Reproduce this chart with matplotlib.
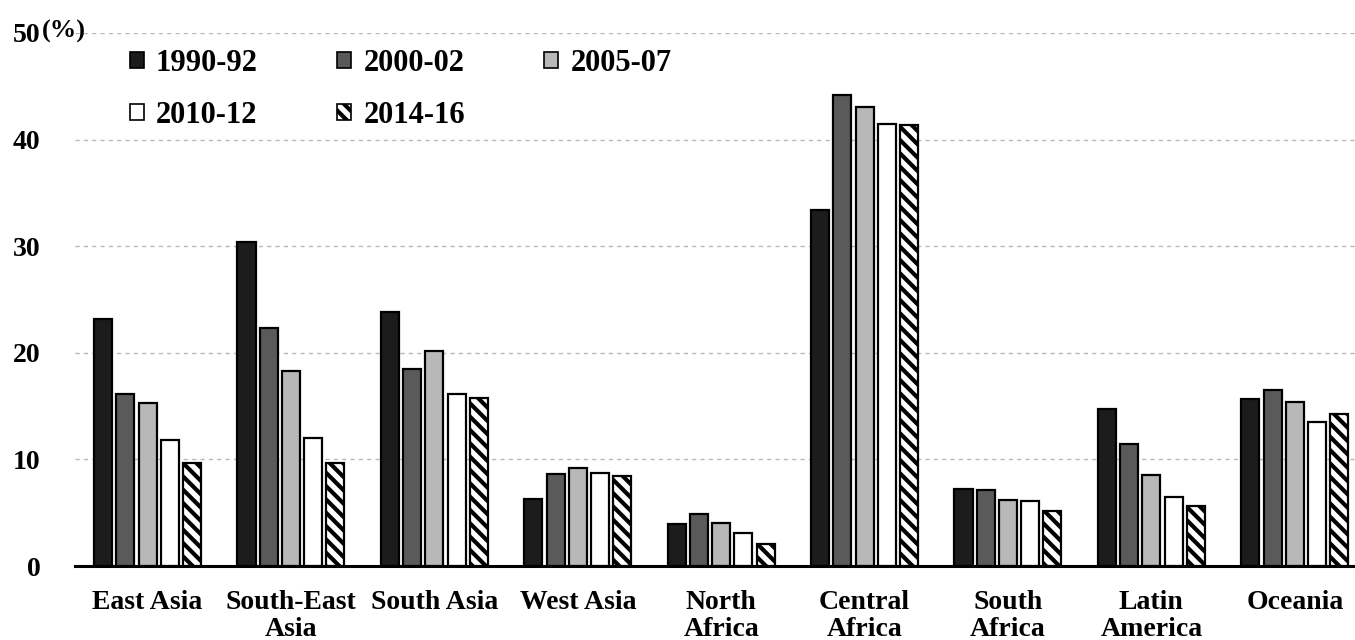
import numpy as np
import matplotlib
matplotlib.use('Agg')
import matplotlib.pyplot as plt
from matplotlib.patches import Patch

regions = ['East Asia', 'South-East\nAsia', 'South Asia', 'West Asia', 'North\nAfrica',
           'Central\nAfrica', 'South\nAfrica', 'Latin\nAmerica', 'Oceania']
periods = ['1990-92', '2000-02', '2005-07', '2010-12', '2014-16']

v1990 = [23.2, 30.4, 23.8, 6.3, 3.9, 33.4, 7.2, 14.7, 15.7]
v2000 = [16.1, 22.3, 18.5, 8.6, 4.9, 44.2, 7.1, 11.4, 16.5]
v2005 = [15.3, 18.3, 20.2, 9.2, 4.0, 43.1, 6.2, 8.5, 15.4]
v2010 = [11.8, 12.0, 16.1, 8.7, 3.1, 41.5, 6.1, 6.5, 13.5]
v2014 = [9.7, 9.7, 15.8, 8.4, 2.1, 41.4, 5.2, 5.6, 14.3]

yticks = [0, 10, 20, 30, 40, 50]

series = [v1990, v2000, v2005, v2010, v2014]
faces = ['#1c1c1c', '#5a5a5a', '#b8b8b8', 'white', 'white']
hatches = [None, None, None, None, '\\\\\\\\\\']

plt.rcParams['font.family'] = 'Liberation Serif'
plt.rcParams['font.weight'] = 'bold'
plt.rcParams['hatch.linewidth'] = 1.5

fig = plt.figure(figsize=(6.775, 3.2), dpi=200)
ax = fig.add_axes([75 / 1355, 1 - 566 / 640, 1 - 75 / 1355, (566 - 33) / 640])

x = np.arange(len(regions))
pitch = 0.155
width = 0.126
for i, vals in enumerate(series):
    ax.bar(x + (i - 2) * pitch, vals, width, color=faces[i], edgecolor='black',
           linewidth=0.8, hatch=hatches[i], zorder=3)

ax.set_xlim(-0.506, 8.42)
ax.set_ylim(0, 50)
ax.set_yticks(yticks)
ax.set_yticklabels([str(t) for t in yticks], fontsize=10)
ax.set_xticks(x)
ax.set_xticklabels(regions, fontsize=10, linespacing=1.15)
ax.tick_params(axis='y', length=0, pad=12.5)
ax.tick_params(axis='x', length=0, pad=8.5)

for t in yticks[1:]:
    ax.axhline(t, color='#b8b8b8', lw=0.5, ls=(0, (3, 3)), zorder=1)

for s in ['left', 'right', 'top']:
    ax.spines[s].set_visible(False)
ax.spines['bottom'].set_linewidth(1.1)
ax.spines['bottom'].set_zorder(4)

fig.text(42 / 1355, 1 - 31 / 640, '(%)', fontsize=9.5, va='center', ha='left')

# legend is filled column by column, so reorder to read row by row
order = [0, 3, 1, 4, 2]
handles = [Patch(facecolor=faces[i], edgecolor='black', linewidth=0.6, hatch=hatches[i])
           for i in order]
labels = [periods[i] for i in order]
ax.legend(handles, labels, ncol=3, frameon=False, fontsize=11,
          loc='upper left', bbox_to_anchor=(130 / 1355, 1 - 49 / 640),
          bbox_transform=fig.transFigure, borderpad=0, borderaxespad=0,
          handlelength=0.45, handleheight=0.45, handletextpad=0.4,
          columnspacing=2.6, labelspacing=0.75)

fig.savefig('out.png', dpi=200)
